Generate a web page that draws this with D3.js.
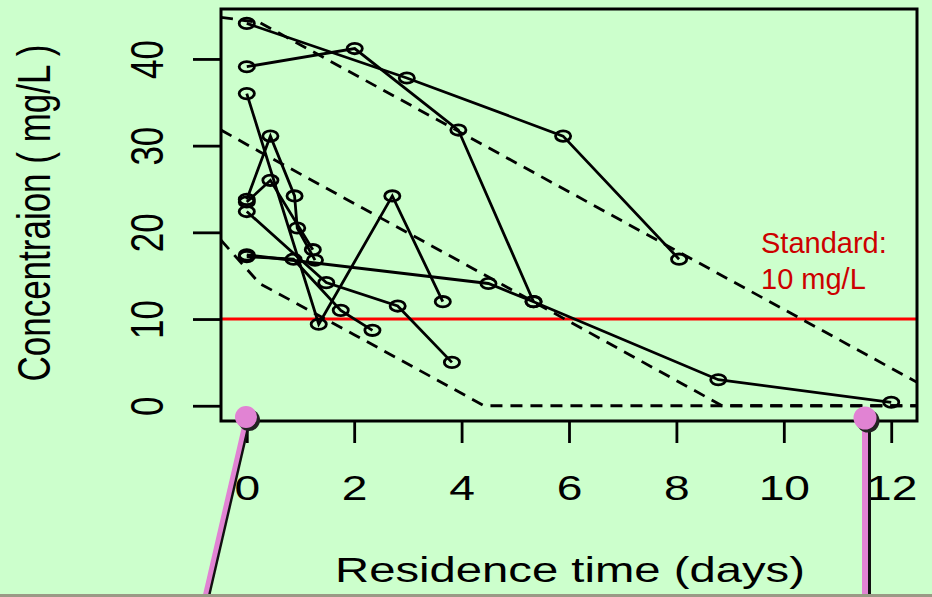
<!DOCTYPE html>
<html lang="en">
<head>
<meta charset="utf-8">
<script src="https://d3js.org/d3.v7.min.js"></script>
<style>
    html, body { margin: 0; padding: 0; background: #ccffcc; }
    svg { display: block; }
    text { font-family: "Liberation Sans", Arial, sans-serif; }
</style>
</head>
<body>
<script>
    // measured profiles: [residence time (days), concentration (mg/L)]
    const profileA = [[0, 44.1], [2.98, 37.8], [5.89, 31.1], [8.05, 16.9]];
    const profileB = [[0, 39.1], [2.01, 41.2], [3.94, 31.8], [5.34, 12.0]];
    const profileC = [[0, 36.0], [1.34, 9.4], [2.71, 24.2], [3.65, 12.0]];
    const profileD = [[0, 23.8], [0.44, 31.1], [0.89, 24.2], [0.94, 20.5], [1.27, 16.8]];
    const profileE = [[0, 23.5], [0.44, 26.0], [1.23, 18.0]];
    const profileF = [[0, 22.4], [1.48, 14.2], [2.81, 11.5], [3.82, 5.0]];
    const profileG = [[0, 17.4], [4.50, 14.1], [5.34, 12.0], [8.78, 3.0], [12.0, 0.4]];
    const profileH = [[0, 17.2], [0.87, 16.9], [1.75, 11.0], [2.34, 8.7]];
    const profiles = [profileA, profileB, profileC, profileD, profileE, profileF, profileG, profileH];

    // dashed decay lines
    const decayHigh = [[-0.48, 44.8], [0.24, 44.2], [12.48, 2.7]];
    const decayMid = [[-0.48, 31.8], [0.24, 29.3], [4.78, 13.9], [8.85, 0], [12.48, 0]];
    const decayLow = [[-0.48, 19.1], [0.24, 14.1], [2.0, 8.2], [4.42, 0], [12.48, 0]];
    const decayLines = [decayHigh, decayMid, decayLow];

    const xTicks = [0, 2, 4, 6, 8, 10, 12];
    const yTicks = [0, 10, 20, 30, 40];
    const standard = 10;

    const W = 932, H = 597;
    const box = { left: 221, right: 917, top: 9, bottom: 421 };
    const sx = 1.32; // the plot picture is stretched sideways
    const ink = "#000";
    const pink = "#e183d3";
    const lw = 2.8;

    const svg = d3.select("body").append("svg")
        .attr("width", W)
        .attr("height", H);

    svg.append("rect").attr("width", W).attr("height", H).attr("fill", "#ccffcc");

    const x = d3.scaleLinear().domain([-0.48, 12.48]).range([box.left, box.right]);
    const y = d3.scaleLinear().domain([-1.76, 45.76]).range([box.bottom, box.top]);

    svg.append("clipPath").attr("id", "plot")
        .append("rect")
        .attr("x", box.left).attr("y", box.top)
        .attr("width", box.right - box.left).attr("height", box.bottom - box.top);

    // x axis
    const gx = svg.append("g")
        .attr("transform", `translate(0,${box.bottom})`)
        .call(d3.axisBottom(x).tickValues(xTicks).tickSize(22).tickSizeOuter(0));
    gx.select(".domain").remove();
    gx.selectAll("line").attr("stroke", ink).attr("stroke-width", lw);
    gx.selectAll("text")
        .attr("y", null).attr("dy", null)
        .attr("fill", ink)
        .attr("font-size", 35)
        .attr("font-family", "Liberation Sans, Arial, sans-serif")
        .attr("transform", `translate(0,79) scale(${sx},1)`);

    // y axis
    const gy = svg.append("g")
        .attr("transform", `translate(${box.left},0)`)
        .call(d3.axisLeft(y).tickValues(yTicks).tickSize(28).tickSizeOuter(0));
    gy.select(".domain").remove();
    gy.selectAll("line").attr("stroke", ink).attr("stroke-width", lw);
    gy.selectAll("text")
        .attr("x", null).attr("dy", null)
        .attr("text-anchor", "middle")
        .attr("fill", ink)
        .attr("font-size", 35)
        .attr("font-family", "Liberation Sans, Arial, sans-serif")
        .attr("transform", `translate(-58,0) scale(${sx},1) rotate(-90)`);

    // standard line
    svg.append("line")
        .attr("x1", x.range()[0]).attr("x2", x.range()[1])
        .attr("y1", y(standard)).attr("y2", y(standard))
        .attr("stroke", "#ff0000")
        .attr("stroke-width", 3);

    const line = d3.line().x(d => x(d[0])).y(d => y(d[1]));
    const plot = svg.append("g").attr("clip-path", "url(#plot)");

    plot.selectAll(".decay")
        .data(decayLines)
        .join("path")
        .attr("class", "decay")
        .attr("d", line)
        .attr("fill", "none")
        .attr("stroke", ink)
        .attr("stroke-width", lw)
        .attr("stroke-dasharray", "12,8");

    plot.selectAll(".profile")
        .data(profiles)
        .join("path")
        .attr("class", "profile")
        .attr("d", line)
        .attr("fill", "none")
        .attr("stroke", ink)
        .attr("stroke-width", lw);

    plot.selectAll(".pt")
        .data(profiles.flat())
        .join("ellipse")
        .attr("class", "pt")
        .attr("cx", d => x(d[0]))
        .attr("cy", d => y(d[1]))
        .attr("rx", 7.6)
        .attr("ry", 5.2)
        .attr("fill", "none")
        .attr("stroke", ink)
        .attr("stroke-width", lw);

    // box
    svg.append("rect")
        .attr("x", box.left).attr("y", box.top)
        .attr("width", box.right - box.left).attr("height", box.bottom - box.top)
        .attr("fill", "none")
        .attr("stroke", ink)
        .attr("stroke-width", 3);

    // axis titles
    svg.append("text")
        .attr("text-anchor", "middle")
        .attr("font-size", 35)
        .attr("transform", `translate(570,582) scale(1.35,1)`)
        .text("Residence time (days)");

    svg.append("text")
        .attr("text-anchor", "middle")
        .attr("font-size", 35)
        .attr("transform", `translate(50,213) scale(${sx},1) rotate(-90)`)
        .text("Concentraion ( mg/L )");

    // standard label
    const lab = svg.append("text")
        .attr("fill", "#cc0000")
        .attr("font-size", 29);
    lab.append("tspan").attr("x", 761).attr("y", 253).text("Standard:");
    lab.append("tspan").attr("x", 761).attr("y", 289).text("10 mg/L");

    // pins
    const pins = svg.append("g");
    pins.append("line").attr("x1", 249).attr("y1", 420).attr("x2", 208).attr("y2", 597)
        .attr("stroke", "#111").attr("stroke-width", 4);
    pins.append("line").attr("x1", 246).attr("y1", 420).attr("x2", 205).attr("y2", 597)
        .attr("stroke", pink).attr("stroke-width", 5);
    pins.append("circle").attr("cx", 249).attr("cy", 420).attr("r", 11).attr("fill", "#222");
    pins.append("circle").attr("cx", 246).attr("cy", 417).attr("r", 11).attr("fill", pink);

    pins.append("line").attr("x1", 869).attr("y1", 420).attr("x2", 869).attr("y2", 597)
        .attr("stroke", "#111").attr("stroke-width", 4);
    pins.append("line").attr("x1", 865).attr("y1", 420).attr("x2", 865).attr("y2", 597)
        .attr("stroke", pink).attr("stroke-width", 6);
    pins.append("circle").attr("cx", 868).attr("cy", 421).attr("r", 11.5).attr("fill", "#222");
    pins.append("circle").attr("cx", 865).attr("cy", 418).attr("r", 11.5).attr("fill", pink);

    // edge of the next slide element
    svg.append("rect").attr("x", 0).attr("y", 594).attr("width", W).attr("height", 3)
        .attr("fill", "#9a9a86");
</script>
</body>
</html>
